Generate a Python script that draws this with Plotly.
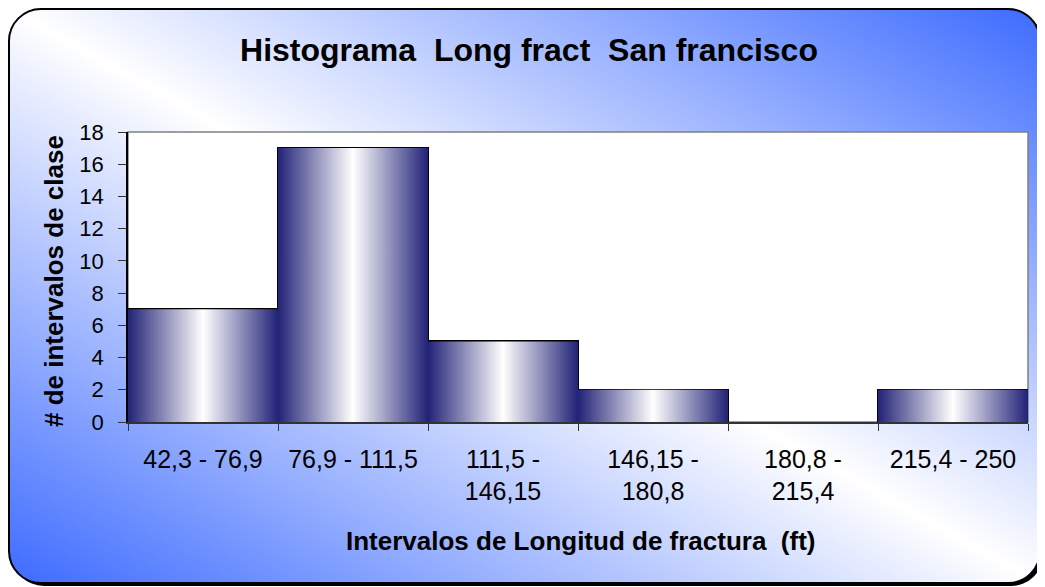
import base64
import plotly.graph_objects as go

# datos del histograma
intervalos = ["42,3 - 76,9", "76,9 - 111,5", "111,5 -<br>146,15",
              "146,15 -<br>180,8", "180,8 -<br>215,4", "215,4 - 250"]
frecuencia = [7, 17, 5, 2, 0, 2]
y_ticks = [0, 2, 4, 6, 8, 10, 12, 14, 16, 18]

W, H = 1045, 587
OFF = 8  # la pagina se muestra con 8px de margen en el body
FONT = "Liberation Sans, Arial, sans-serif"
NAVY = "#222277"
bar_scale = [[0, NAVY], [0.5, "#ffffff"], [1, NAVY]]


def px_x(x):
    return (x - OFF) / W


def px_y(y):
    return 1 - (y - OFF) / H


# fondo: rectangulo redondeado con degradado diagonal (estilo Excel)
svg = f"""<svg xmlns="http://www.w3.org/2000/svg" width="{W}" height="{H}" viewBox="0 0 {W} {H}">
<defs><linearGradient id="g" x1="1" y1="0" x2="0" y2="1">
<stop offset="0" stop-color="#3d6bff"/><stop offset="0.5" stop-color="#ffffff"/><stop offset="1" stop-color="#3d6bff"/>
</linearGradient></defs>
<rect x="4" y="4" width="1031" height="574" rx="32" fill="#000"/>
<rect x="1" y="1" width="1031" height="574" rx="32" fill="url(#g)" stroke="#000" stroke-width="2"/>
</svg>"""
bg_uri = "data:image/svg+xml;base64," + base64.b64encode(svg.encode()).decode()

idx = list(range(len(frecuencia)))

fig = go.Figure()

# relleno degradado de cada barra
for i, v in zip(idx, frecuencia):
    if v == 0:
        continue
    fig.add_trace(go.Scatter(
        x=[i - 0.5, i + 0.5, i + 0.5, i - 0.5, i - 0.5],
        y=[0, 0, v, v, 0],
        mode="lines", fill="toself",
        fillgradient=dict(type="horizontal", colorscale=bar_scale),
        line=dict(width=0), hoverinfo="skip", showlegend=False
    ))

# contorno de las barras (sin contorno para la clase vacia)
fig.add_trace(go.Bar(
    x=idx, y=frecuencia, width=1,
    marker=dict(color="rgba(0,0,0,0)",
                line=dict(color="#000",
                          width=[2 if v else 0 for v in frecuencia])),
    showlegend=False
))

fig.update_layout(
    width=W, height=H, autosize=False,
    margin=dict(l=0, r=0, t=0, b=0, pad=0, autoexpand=False),
    paper_bgcolor="white",
    plot_bgcolor="rgba(0,0,0,0)",
    font=dict(family=FONT, color="#000"),
    title=dict(text="Histograma  Long fract  San francisco",
               x=px_x(529), y=px_y(50), xanchor="center", yanchor="middle",
               automargin=False, font=dict(size=32, weight="bold")),
    images=[dict(source=bg_uri, xref="paper", yref="paper", x=0, y=1,
                 sizex=1, sizey=1, sizing="stretch", xanchor="left",
                 yanchor="top", layer="below")],
    shapes=[dict(type="rect", xref="x domain", yref="y domain",
                 x0=0, x1=1, y0=0, y1=1, fillcolor="white",
                 line=dict(color="#808080", width=1.5), layer="below")],
    annotations=[
        dict(text="Intervalos de Longitud de fractura  (ft)",
             xref="paper", yref="paper", x=px_x(580), y=px_y(541),
             xanchor="center", yanchor="middle",
             showarrow=False, font=dict(size=26, weight="bold")),
        dict(text="# de intervalos de clase", textangle=-90,
             xref="paper", yref="paper", x=px_x(54), y=px_y(281),
             xanchor="center", yanchor="middle",
             showarrow=False, font=dict(size=26, weight="bold")),
    ],
    xaxis=dict(domain=[px_x(128), px_x(1028)], range=[-0.5, 5.5],
               automargin=False,
               tickmode="array", tickvals=idx, ticktext=intervalos,
               ticks="", tickfont=dict(size=25), ticklabelstandoff=14,
               showgrid=False, zeroline=False, showline=True,
               linecolor="#333", linewidth=1.5,
               minor=dict(tickmode="linear", tick0=-0.5, dtick=1,
                          ticks="outside", ticklen=7, tickcolor="#333",
                          tickwidth=1, showgrid=False)),
    yaxis=dict(domain=[px_y(422), px_y(132)], range=[0, 18],
               automargin=False,
               tickmode="array", tickvals=y_ticks,
               ticks="outside", ticklen=8, tickcolor="#333", tickwidth=1,
               tickfont=dict(size=22), ticklabelstandoff=10,
               showgrid=False, zeroline=False, showline=True,
               linecolor="#000", linewidth=1.5),
    bargap=0,
)

fig.write_html("out.html")
